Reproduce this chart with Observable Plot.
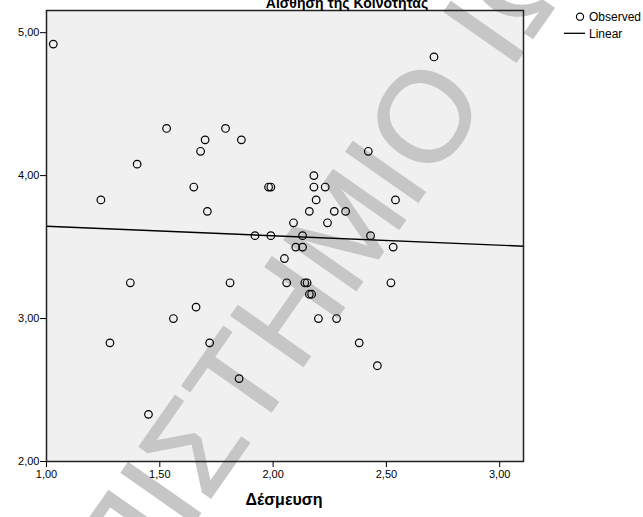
<!DOCTYPE html>
<html>
<head>
<meta charset="utf-8">
<script src="https://cdn.jsdelivr.net/npm/d3@7"></script>
<script src="https://cdn.jsdelivr.net/npm/@observablehq/plot@0.6"></script>
<style>
  html, body { margin: 0; padding: 0; background: #ffffff; }
  #chart { width: 643px; height: 517px; overflow: hidden; }
  svg { display: block; }
</style>
</head>
<body>
<div id="chart"></div>
<script>
// Δέσμευση (x) and Αίσθηση της Κοινότητας (y), one entry per respondent
const desmeusi = [
  1.03, 2.71, 1.53, 1.79, 1.70, 1.86, 1.68, 2.42, 1.40, 2.18,
  1.65, 1.98, 1.99, 2.18, 2.23, 1.24, 2.19, 2.54, 1.71, 2.16,
  2.27, 2.32, 2.09, 2.24, 1.92, 1.99, 2.13, 2.43, 2.10, 2.13,
  2.53, 2.05, 1.37, 1.81, 2.06, 2.14, 2.15, 2.52, 2.16, 2.17,
  1.66, 1.56, 2.20, 2.28, 1.28, 1.72, 2.38, 2.46, 1.85, 1.45
];
const aisthisi = [
  4.92, 4.83, 4.33, 4.33, 4.25, 4.25, 4.17, 4.17, 4.08, 4.00,
  3.92, 3.92, 3.92, 3.92, 3.92, 3.83, 3.83, 3.83, 3.75, 3.75,
  3.75, 3.75, 3.67, 3.67, 3.58, 3.58, 3.58, 3.58, 3.50, 3.50,
  3.50, 3.42, 3.25, 3.25, 3.25, 3.25, 3.25, 3.25, 3.17, 3.17,
  3.08, 3.00, 3.00, 3.00, 2.83, 2.83, 2.83, 2.67, 2.58, 2.33
];
const xTicks = [1.0, 1.5, 2.0, 2.5, 3.0];
const yTicks = [2.0, 3.0, 4.0, 5.0];
const xDomain = [1.0, 3.105];
const yDomain = [2.0, 5.155];
const titleText = "Αίσθηση της Κοινότητας";
const xLabel = "Δέσμευση";
const legendLabels = ["Observed", "Linear"];
const watermarkWords = ["ΠΑΝΕΠΙΣΤΗΜΙΟ", "ΙΩΑΝΝΙΝΩΝ"];

const points = desmeusi.map((x, i) => ({x, y: aisthisi[i]}));

// least-squares linear fit, drawn across the whole x axis (as SPSS does)
const mx = d3.mean(desmeusi), my = d3.mean(aisthisi);
const slope = d3.sum(points, p => (p.x - mx) * (p.y - my)) / d3.sum(points, p => (p.x - mx) ** 2);
const intercept = my - slope * mx;
const fit = xDomain.map(x => ({x, y: intercept + slope * x}));

const fmt = d => d3.format(".2f")(d).replace(".", ",");

const chart = Plot.plot({
  width: 643,
  height: 517,
  marginLeft: 46,
  marginRight: 120,
  marginTop: 10,
  marginBottom: 56,
  style: {fontFamily: "'Liberation Sans', Arial, sans-serif", fontSize: "11px", color: "#000", background: "#fff"},
  x: {domain: xDomain, ticks: xTicks, tickFormat: fmt, tickSize: 6, tickPadding: 3, label: null},
  y: {domain: yDomain, ticks: yTicks, tickFormat: fmt, tickSize: 6, tickPadding: 1, label: null},
  marks: [
    Plot.frame({fill: "#f0f0f0", stroke: null}),
    Plot.line(fit, {x: "x", y: "y", stroke: "#000", strokeWidth: 1.4}),
    Plot.dot(points, {x: "x", y: "y", r: 3.8, stroke: "#000", strokeWidth: 1.2, fill: "none"}),
    Plot.frame({stroke: "#222", strokeWidth: 1.5})
  ]
});

document.getElementById("chart").appendChild(chart);

const svg = d3.select(chart);
const font = "'Liberation Sans', Arial, sans-serif";

// gray diagonal watermark, placed just above the plot background
const bg = chart.querySelector("[aria-label=frame]");
const wm = document.createElementNS("http://www.w3.org/2000/svg", "g");
bg.parentNode.insertBefore(wm, bg.nextSibling);
const wmg = d3.select(wm)
  .attr("font-family", font).attr("font-size", 128)
  .attr("fill", "#c6c6c6").attr("stroke", "#c6c6c6").attr("stroke-width", 1.5)
  .attr("transform", "translate(489,101) rotate(-55)");
wmg.append("text").attr("x", 0).attr("y", 0).attr("text-anchor", "end").text(watermarkWords[0]);
wmg.append("text").attr("x", 35.6).attr("y", 0).attr("text-anchor", "start").text(watermarkWords[1]);

// keep the axes above the watermark
chart.querySelectorAll("[aria-label$='axis'], [aria-label*='tick']").forEach(el => chart.appendChild(el));

// title (partly cut at the top, as in the original)
svg.append("text")
  .attr("x", 347).attr("y", 7.5)
  .attr("text-anchor", "middle")
  .attr("font-family", font).attr("font-weight", "bold").attr("font-size", 14)
  .attr("fill", "#000")
  .text(titleText);

// x axis title
svg.append("text")
  .attr("x", 284).attr("y", 505)
  .attr("text-anchor", "middle")
  .attr("font-family", font).attr("font-weight", "bold").attr("font-size", 16)
  .attr("fill", "#000")
  .text(xLabel);

// legend
const lg = svg.append("g").attr("font-family", font).attr("font-size", 12)
  .attr("fill", "#000").attr("text-anchor", "start");
lg.append("circle").attr("cx", 580).attr("cy", 16.7).attr("r", 3.6)
  .attr("fill", "none").attr("stroke", "#000").attr("stroke-width", 1.1);
lg.append("text").attr("x", 589).attr("y", 21).text(legendLabels[0]);
lg.append("line").attr("x1", 564).attr("x2", 585).attr("y1", 33.3).attr("y2", 33.3)
  .attr("stroke", "#000").attr("stroke-width", 1.3);
lg.append("text").attr("x", 589).attr("y", 37.5).text(legendLabels[1]);
</script>
</body>
</html>
